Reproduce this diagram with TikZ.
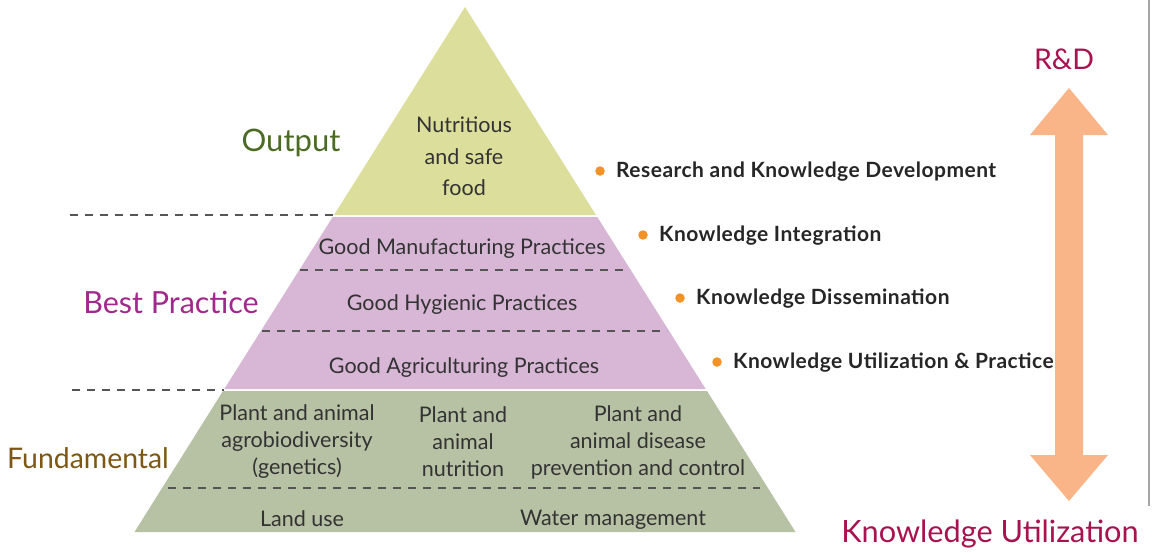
\documentclass[tikz,border=0pt]{standalone}
\usepackage{fontspec}
\setmainfont{Lato}
\definecolor{topfill}{HTML}{DCDE9B}
\definecolor{midfill}{HTML}{D8B7D6}
\definecolor{botfill}{HTML}{B7C2A5}
\definecolor{arrowfill}{HTML}{F9B587}
\definecolor{outcol}{HTML}{4B6A24}
\definecolor{bestcol}{HTML}{A2288C}
\definecolor{fundcol}{HTML}{7E5714}
\definecolor{rdcol}{HTML}{A8134F}
\definecolor{bulcol}{HTML}{F39325}
\definecolor{txtcol}{HTML}{333333}
\definecolor{bultxt}{HTML}{262626}
\definecolor{dashcol}{HTML}{555555}
\begin{document}
\begin{tikzpicture}[x=1pt,y=-1pt,
  layertext/.style={font=\fontsize{21.5}{27}\selectfont, text=txtcol, align=center, inner sep=0pt},
  bigtext/.style={font=\fontsize{31}{34}\selectfont, inner sep=0pt},
  bultext/.style={font=\fontsize{21}{24}\selectfont\bfseries\addfontfeature{LetterSpace=2.2}, text=bultxt, anchor=west, inner sep=0pt},
  bulletdot/.style={circle, fill=bulcol, minimum size=9.5pt, inner sep=0pt},
  sepline/.style={draw=dashcol, line width=1.2pt, dash pattern=on 8pt off 7pt}
]
\useasboundingbox (0,0) rectangle (1152,552);
\fill[white] (0,0) rectangle (1152,552);
% right border
\draw[draw=black!35, line width=2pt] (1148.5,0) -- (1148.5,506);

% pyramid layers
\fill[topfill] (465,7) -- (596,215) -- (334,215) -- cycle;
\fill[midfill] (332.7,217) -- (597.3,217) -- (705.7,389) -- (224.3,389) -- cycle;
\fill[botfill] (223,391) -- (707,391) -- (795.5,532) -- (134.5,532) -- cycle;

% dashed separators
\coordinate (d1a) at (70,215);  \coordinate (d1b) at (333,215);
\coordinate (d2a) at (72,390);  \coordinate (d2b) at (224,390);
\coordinate (d3a) at (300,270); \coordinate (d3b) at (630,270);
\coordinate (d4a) at (262,331); \coordinate (d4b) at (667,331);
\coordinate (d5a) at (168,488); \coordinate (d5b) at (760,488);
\draw[sepline] (d1a) -- (d1b);
\draw[sepline] (d2a) -- (d2b);
\draw[sepline] (d3a) -- (d3b);
\draw[sepline] (d4a) -- (d4b);
\draw[sepline] (d5a) -- (d5b);

% layer texts
\node[layertext, font=\fontsize{21.5}{31.5}\selectfont] (food) at (464,156.5) {Nutritious\\and safe\\food};
\node[layertext] (gmp) at (462,249) {Good Manufacturing Practices};
\node[layertext] (ghp) at (462,305) {Good Hygienic Practices};
\node[layertext] (gap) at (464,368) {Good Agriculturing Practices};
\node[layertext] (agro) at (297,442) {Plant and animal\\agrobiodiversity\\(genetics)};
\node[layertext] (nutr) at (463,442) {Plant and\\animal\\nutrition};
\node[layertext] (dis) at (638,442) {Plant and\\animal disease\\prevention and control};
\node[layertext] (land) at (302,519) {Land use};
\node[layertext] (water) at (613,520) {Water management};

% left labels
\node[bigtext, text=outcol] (output) at (291,143) {Output};
\node[bigtext, text=bestcol, font=\fontsize{30.5}{34}\selectfont] (best) at (171,302) {Best Practice};
\node[bigtext, text=fundcol, font=\fontsize{28.4}{32}\selectfont] (fund) at (88,458) {Fundamental};

% bullets
\node[bulletdot] (b1) at (600,171) {};
\node[bultext] (t1) at (616,172) {Research and Knowledge Development};
\node[bulletdot] (b2) at (643,235) {};
\node[bultext] (t2) at (659,236) {Knowledge Integration};
\node[bulletdot] (b3) at (680,298) {};
\node[bultext] (t3) at (696,299) {Knowledge Dissemination};
\node[bulletdot] (b4) at (717,362) {};
\node[bultext] (t4) at (733,363) {Knowledge Utilization \& Practice};

% double arrow
\fill[arrowfill] (1069,88) -- (1108,135) -- (1083,135) -- (1083,455) -- (1108,455)
  -- (1069,501) -- (1030,455) -- (1055,455) -- (1055,135) -- (1030,135) -- cycle;
\node[bigtext, text=rdcol, font=\fontsize{28.5}{32}\selectfont] (rd) at (1064,59) {R\&D};
\node[bigtext, text=rdcol, font=\fontsize{30.7}{34}\selectfont] (ku) at (990,534) {Knowledge Utilization};
\end{tikzpicture}
\end{document}
